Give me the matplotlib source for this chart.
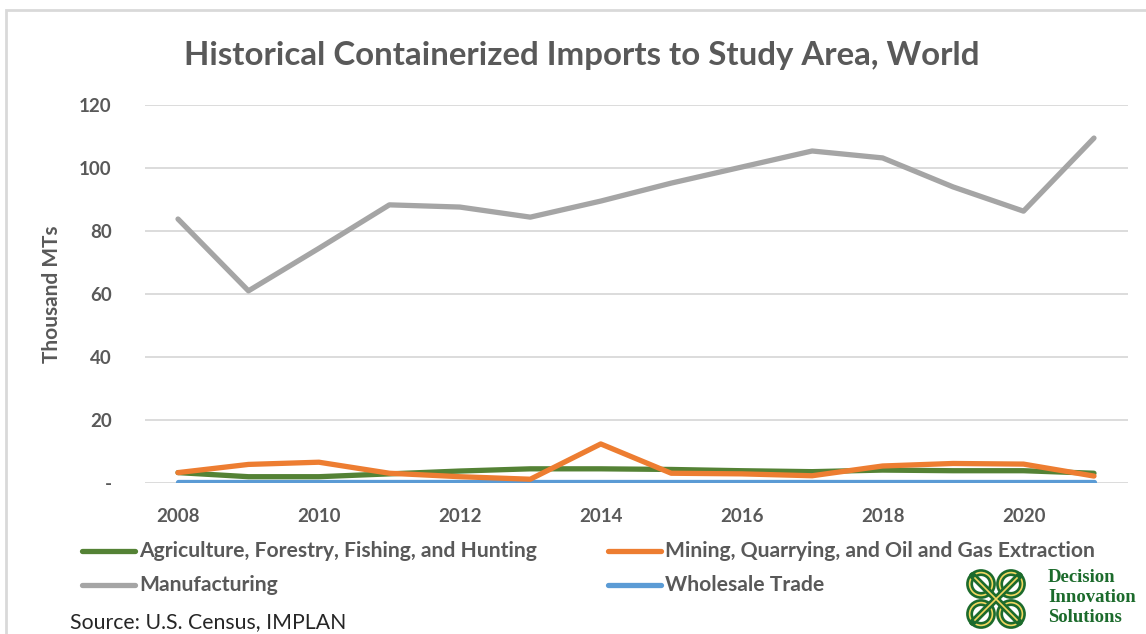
import matplotlib
matplotlib.use("Agg")
import matplotlib.pyplot as plt
from matplotlib.lines import Line2D
from matplotlib.patches import Rectangle, Circle

plt.rcParams['font.family'] = ['Lato', 'DejaVu Sans']

years = list(range(2008, 2022))
agriculture = [3.3, 2.0, 2.0, 2.9, 3.8, 4.5, 4.5, 4.3, 3.9, 3.6, 4.1, 3.9, 3.9, 3.1]
mining = [3.3, 5.9, 6.6, 3.1, 2.0, 1.2, 12.4, 3.1, 2.9, 2.3, 5.4, 6.2, 6.0, 2.2]
manufacturing = [83.8, 61.0, 74.5, 88.3, 87.6, 84.4, 89.5, 95.2, 100.3, 105.4, 103.2, 94.0, 86.3, 109.5]
wholesale = [0.3] * 14

series_names = ["Agriculture, Forestry, Fishing, and Hunting",
                "Mining, Quarrying, and Oil and Gas Extraction",
                "Manufacturing",
                "Wholesale Trade"]
series_colors = ["#548235", "#ED7D31", "#A5A5A5", "#5B9BD5"]

W, H = 1146, 634
fig = plt.figure(figsize=(W / 100, H / 100), dpi=100)

def fx(px):
    return px / W

def fy(py):
    return 1 - py / H

# outer chart frame
fig.add_artist(Rectangle((fx(6), fy(700)), fx(1200), fy(10) - fy(700),
                         transform=fig.transFigure, fill=False,
                         edgecolor="#d9d9d9", lw=2))

# caption line above the frame (mostly cut off)
fig.text(fx(18), fy(-4), "Figure 3. Historical Containerized Imports from the World",
         color="#70AD47", fontsize=15, ha="left", va="baseline")

ax = fig.add_axes([fx(145), fy(483), fx(1128) - fx(145), fy(105) - fy(483)])
for vals, c in zip([wholesale, agriculture, mining, manufacturing],
                   [series_colors[3], series_colors[0], series_colors[1], series_colors[2]]):
    ax.plot(years, vals, color=c, lw=3.8, solid_capstyle="round", solid_joinstyle="round")

ax.set_ylim(0, 120)
ax.set_xlim(2008 - 33 / 70.46, 2008 - 33 / 70.46 + 983 / 70.46)
ax.set_yticks(range(0, 121, 20))
ax.set_yticklabels(["-"] + [str(v) for v in range(20, 121, 20)])
ax.set_xticks(range(2008, 2022, 2))
ax.grid(axis="y", color="#d9d9d9", lw=1.3)
ax.set_axisbelow(True)
for s in ax.spines.values():
    s.set_visible(False)
ax.tick_params(length=0, colors="#595959", labelsize=13.5)
ax.tick_params(axis="y", pad=24)
ax.tick_params(axis="x", pad=18)
for lab in ax.get_xticklabels() + ax.get_yticklabels():
    lab.set_fontweight("bold")
ax.set_ylabel("Thousand MTs", fontsize=15, color="#595959", fontweight="bold", labelpad=12)

fig.text(fx(582), fy(55), "Historical Containerized Imports to Study Area, World",
         ha="center", va="center", fontsize=23.8, fontweight="bold", color="#595959")

# legend
leg_pos = [(82, 551), (608, 551), (82, 585), (608, 585)]
for (lx, ly), name, c in zip(leg_pos, series_names, series_colors):
    fig.add_artist(Line2D([fx(lx), fx(lx + 53)], [fy(ly), fy(ly)], transform=fig.transFigure,
                          color=c, lw=3.8, solid_capstyle="round"))
    fig.text(fx(lx + 57), fy(ly), name, ha="left", va="center", fontsize=15.2,
             fontweight="bold", color="#595959")

fig.text(fx(70), fy(622), "Source: U.S. Census, IMPLAN", ha="left", va="center",
         fontsize=15.3, color="#262626")

# logo
lax = fig.add_axes([fx(950), fy(632), fx(92), fy(566) - fy(632)])
lax.set_xlim(-1.1, 1.1)
lax.set_ylim(-1.1, 1.1)
lax.set_aspect("equal")
lax.axis("off")
green = "#1c6b2c"
for cx, cy in [(-0.5, 0.5), (0.5, 0.5), (-0.5, -0.5), (0.5, -0.5)]:
    lax.add_patch(Circle((cx, cy), 0.38, fill=False, edgecolor=green, lw=5))
    lax.add_patch(Circle((cx, cy), 0.38, fill=False, edgecolor="#f2d660", lw=1.2))
lax.plot([-0.78, 0.78], [-0.78, 0.78], color=green, lw=5, solid_capstyle="round")
lax.plot([-0.78, 0.78], [0.78, -0.78], color=green, lw=5, solid_capstyle="round")
lax.plot([-0.7, 0.7], [-0.7, 0.7], color="#f2d660", lw=1.2)
lax.plot([-0.7, 0.7], [0.7, -0.7], color="#f2d660", lw=1.2)

for i, word in enumerate(["Decision", "Innovation", "Solutions"]):
    fig.text(fx(1048), fy(578 + 20 * i), word, ha="left", va="center", fontsize=13.5,
             fontweight="bold", color=green, family=["Liberation Serif", "DejaVu Serif"])

fig.savefig("out.png", dpi=100)
